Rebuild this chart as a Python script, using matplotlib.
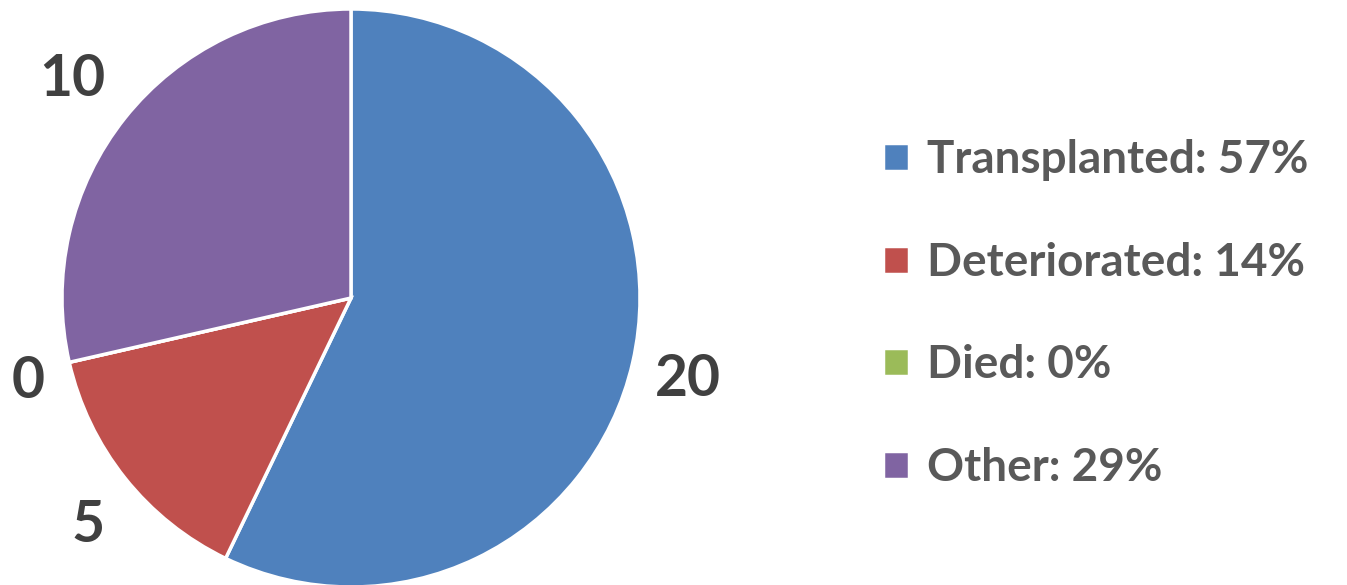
import matplotlib.pyplot as plt

# Data
categories = ["Transplanted", "Deteriorated", "Died", "Other"]
counts = [20, 5, 0, 10]
percents = [57, 14, 0, 29]
colors = ["#4F81BD", "#C0504D", "#9BBB59", "#8064A2"]

plt.rcParams["font.family"] = ["Lato", "DejaVu Sans"]

fig = plt.figure(figsize=(13.47, 5.85), dpi=100)
ax = fig.add_axes([0, 0, 1, 1])

wedges, _ = ax.pie(counts, colors=colors, startangle=90, counterclock=False,
                   center=(351, 287), radius=289, frame=True,
                   wedgeprops=dict(edgecolor="white", linewidth=2.5))
ax.set_xlim(0, 1347)
ax.set_ylim(0, 585)
ax.axis("off")

# data labels (positions of label text)
label_pos = [(688, 205), (88, 60), (28, 203), (72, 505)]
for n, (x, y) in zip(counts, label_pos):
    ax.text(x, y, str(n), fontsize=41, fontweight="bold", color="#404040",
            ha="center", va="center")

labels = [f"{c}: {p}%" for c, p in zip(categories, percents)]
leg = ax.legend(wedges, labels, loc="center left", bbox_to_anchor=(0.625, 0.463),
                frameon=False, fontsize=33, handlelength=0.57, handleheight=0.57,
                handletextpad=0.38, labelspacing=1.32)
for t in leg.get_texts():
    t.set_color("#595959")
    t.set_fontweight("bold")

fig.savefig("out.png", dpi=100)
